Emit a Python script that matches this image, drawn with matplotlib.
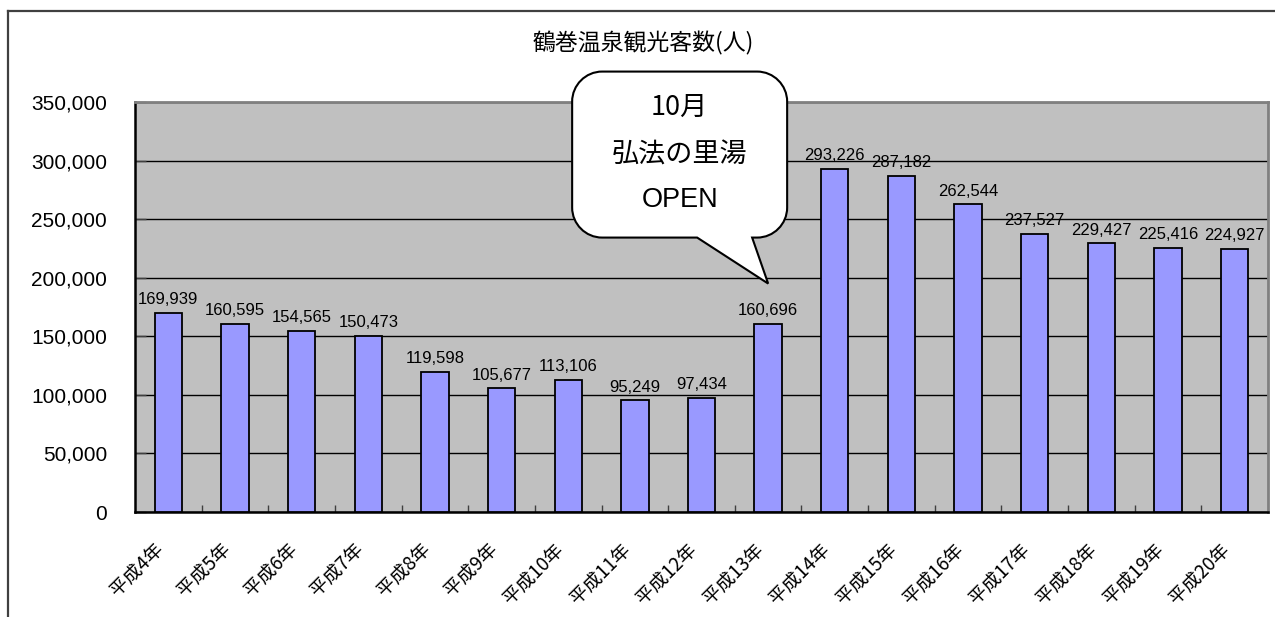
import matplotlib
matplotlib.use('Agg')
import matplotlib.pyplot as plt
from matplotlib.path import Path
import matplotlib.patches as mpatches
import matplotlib.transforms as mtransforms
from matplotlib.lines import Line2D
import numpy as np

# ---- data ----
years = ['平成4年', '平成5年', '平成6年', '平成7年', '平成8年', '平成9年',
         '平成10年', '平成11年', '平成12年', '平成13年', '平成14年', '平成15年',
         '平成16年', '平成17年', '平成18年', '平成19年', '平成20年']
visitors = [169939, 160595, 154565, 150473, 119598, 105677, 113106, 95249,
            97434, 160696, 293226, 287182, 262544, 237527, 229427, 225416, 224927]
yticks = [0, 50000, 100000, 150000, 200000, 250000, 300000, 350000]
title = '鶴巻温泉観光客数(人)'
callout_lines = ['10月', '弘法の里湯', 'OPEN']
callout_idx = 9  # 平成13年

JP = ['Noto Sans CJK JP', 'DejaVu Sans']
NUM = ['Liberation Sans', 'Noto Sans CJK JP']

W, H = 1275, 617
fig = plt.figure(figsize=(W / 100, H / 100), dpi=100, facecolor='white')
ax = fig.add_axes([135 / W, 1 - 512 / H, (1268 - 135) / W, (512 - 102) / H])
ax.set_facecolor('#C0C0C0')

x = np.arange(len(years))
ax.bar(x, visitors, width=0.41, color='#9999FF', edgecolor='black',
       linewidth=1.3, zorder=3)

ax.set_xlim(-0.5, len(years) - 0.5)
ax.set_ylim(0, 350000)
ax.set_yticks(yticks)
ax.set_yticklabels([f'{v:,}' for v in yticks], family=NUM, fontsize=15)
ax.yaxis.grid(True, color='black', linewidth=1.0, zorder=1)
ax.set_axisbelow(True)

# category boundary ticks on x axis
ax.set_xticks(np.arange(0.5, len(years) - 0.5, 1.0))
ax.set_xticklabels([])
ax.tick_params(axis='x', direction='in', length=5, color='#404040', width=1)
ax.tick_params(axis='y', direction='in', length=8, width=1, pad=20,
               color='#404040')

# category labels
off = mtransforms.ScaledTranslation(-15 / 100, -27 / 100, fig.dpi_scale_trans)
for i, lab in enumerate(years):
    ax.text(i, 0, lab, rotation=45, ha='right', va='top',
            rotation_mode='anchor', fontsize=13.5, family=JP,
            transform=ax.transData + off, clip_on=False)

for s in ['left', 'bottom']:
    ax.spines[s].set_color('black')
    ax.spines[s].set_linewidth(1.8)
for s in ['top', 'right']:
    ax.spines[s].set_color('#808080')
    ax.spines[s].set_linewidth(2.0)

# value labels
for i, v in enumerate(visitors):
    ax.annotate(f'{v:,}', (i, v), xytext=(0, 4), textcoords='offset points',
                ha='center', va='bottom', fontsize=12, family=NUM, zorder=4)

# title
fig.text(643 / W, 1 - 43 / H, title, ha='center', va='center',
         fontsize=16.5, family=JP)

# outer chart border (top + left)
fig.add_artist(Line2D([8 / W, 1.0], [1 - 10.5 / H, 1 - 10.5 / H],
                      color='#404040', linewidth=1.6))
fig.add_artist(Line2D([8 / W, 8 / W], [0.0, 1 - 10.5 / H],
                      color='#404040', linewidth=1.6))

# speech-bubble callout, built in pixels around the tip point
tip_val = 195000
tx, ty = ax.transData.transform((callout_idx, tip_val))
L, R, T, B = tx - 196, tx + 19, ty + 212, ty + 46
r = 30
k = 0.55 * r
verts = [
    (tx - 71, B), (L + r, B),
    (L + r - k, B), (L, B + r - k), (L, B + r),
    (L, T - r),
    (L, T - r + k), (L + r - k, T), (L + r, T),
    (R - r, T),
    (R - r + k, T), (R, T - r + k), (R, T - r),
    (R, B + r),
    (R, B + r - k), (R - r + k, B), (R - r, B),
    (tx - 16, B), (tx, ty), (tx - 71, B),
]
codes = [Path.MOVETO, Path.LINETO,
         Path.CURVE4, Path.CURVE4, Path.CURVE4,
         Path.LINETO,
         Path.CURVE4, Path.CURVE4, Path.CURVE4,
         Path.LINETO,
         Path.CURVE4, Path.CURVE4, Path.CURVE4,
         Path.LINETO,
         Path.CURVE4, Path.CURVE4, Path.CURVE4,
         Path.LINETO, Path.LINETO, Path.CLOSEPOLY]
bubble = mpatches.PathPatch(Path(verts, codes), facecolor='white',
                            edgecolor='black', linewidth=1.5,
                            transform=None, clip_on=False, zorder=10)
fig.add_artist(bubble)
cx = (L + R) / 2
for dy, line in zip([176, 129, 84], callout_lines):
    fig.text(cx / W, (ty + dy) / H, line, ha='center', va='center',
             fontsize=19.5, family=NUM if line == 'OPEN' else JP, zorder=11)

fig.savefig('out.png', dpi=100, facecolor='white')
